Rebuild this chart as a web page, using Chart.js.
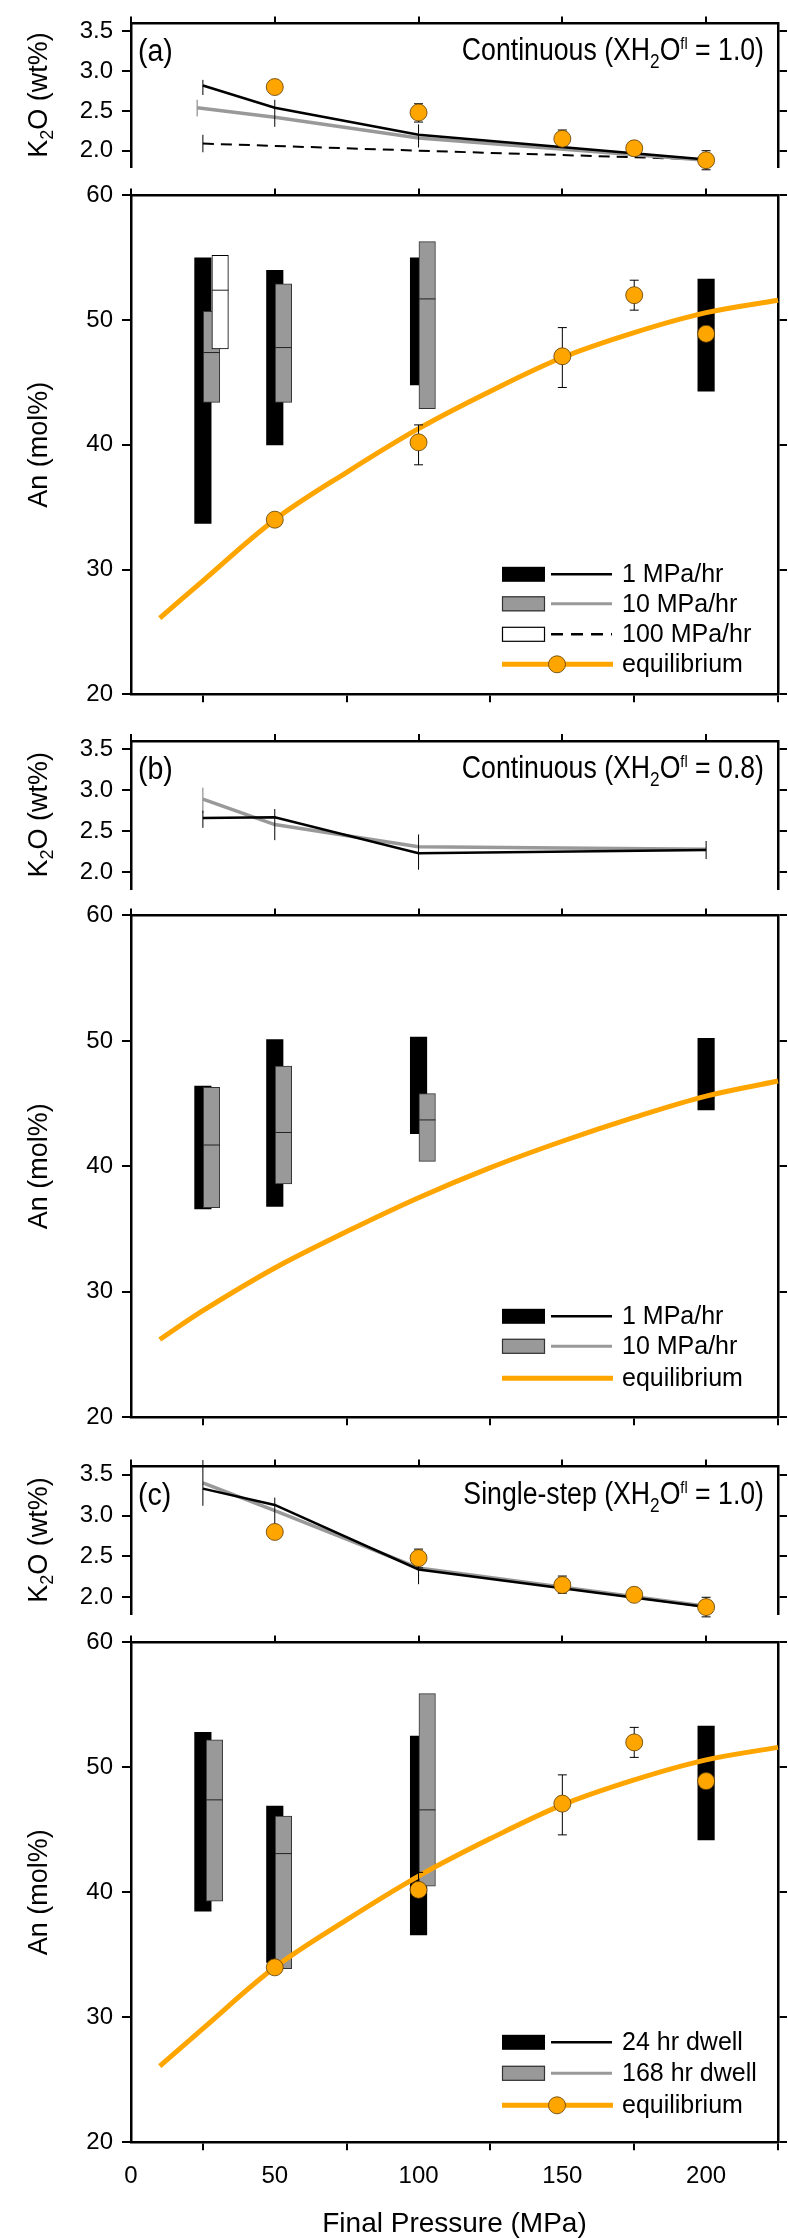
<!DOCTYPE html>
<html lang="en">
<head>
<meta charset="UTF-8">
<title>K2O and An vs final pressure</title>
<script src="https://cdn.jsdelivr.net/npm/chart.js"></script>
<style>
  html, body { margin: 0; padding: 0; background: #fff; }
  #fig { position: relative; width: 788px; height: 2239px; overflow: hidden; }
  #fig canvas { position: absolute; left: 0; }
</style>
</head>
<body>
<div id="fig">
  <canvas id="k2oA"></canvas>
  <canvas id="anA"></canvas>
  <canvas id="k2oB"></canvas>
  <canvas id="anB"></canvas>
  <canvas id="k2oC"></canvas>
  <canvas id="anC"></canvas>
</div>
<script>
// ---------- data ----------
// experiment pressures (MPa); gray / white boxes sit just right of the black ones
const runP = [25, 50, 100, 200];
const runP10 = [28, 53, 103];
const runP100 = [31];
const runP168 = [29, 53, 103];

// equilibrium experiments
const eqP = [50, 100, 150, 175, 200];
const eqK2O = [2.80, 2.48, 2.15, 2.03, 1.88];
const eqK2OLo = [null, 2.36, 2.05, null, 1.76];
const eqK2OHi = [null, 2.59, 2.26, null, 2.00];
const eqAn = [34.0, 40.2, 47.1, 52.0, 48.9];
const eqAnLo = [null, 38.4, 44.6, 50.8, null];
const eqAnHi = [null, 41.6, 49.4, 53.2, null];

// equilibrium An curves
const curveP = [10, 25, 50, 75, 100, 125, 150, 175, 200, 225];
const curveAn = [26.1, 29.1, 34.0, 37.8, 41.3, 44.3, 47.0, 49.0, 50.6, 51.6];
const curveAnB = [26.2, 28.5, 31.9, 34.8, 37.5, 39.9, 42.0, 43.9, 45.6, 46.8];

// (a) continuous, XH2O = 1.0
const aK2O1 = [2.82, 2.54, 2.20, 1.89];
const aK2O1Lo = [2.70, 2.30, 2.04, null];
const aK2O1Hi = [2.89, 2.64, 2.33, null];
const aK2O10P = [23, 50, 100, 200];
const aK2O10 = [2.54, 2.42, 2.16, 1.88];
const aK2O10Lo = [2.43, null, null, null];
const aK2O10Hi = [2.64, null, null, null];
const aK2O100P = [25, 100, 200];
const aK2O100 = [2.09, 2.00, 1.89];
const aK2O100Lo = [1.98, null, null];
const aK2O100Hi = [2.20, null, null];
const aAn1Lo = [33.7, 40.0, 44.8, 44.3];
const aAn1Hi = [55.0, 54.0, 55.0, 53.3];
const aAn10Lo = [43.4, 43.4, 42.9];
const aAn10Hi = [50.7, 52.9, 56.3];
const aAn10Med = [47.4, 47.8, 51.7];
const aAn100Lo = [47.7];
const aAn100Hi = [55.2];
const aAn100Med = [52.4];

// (b) continuous, XH2O = 0.8
const bK2O1 = [2.66, 2.67, 2.23, 2.27];
const bK2O1Lo = [2.54, 2.39, 2.03, 2.16];
const bK2O1Hi = [2.75, 2.77, 2.46, 2.38];
const bK2O10 = [2.89, 2.58, 2.31, 2.28];
const bK2O10Lo = [2.72, null, null, null];
const bK2O10Hi = [3.03, null, null, null];
const bAn1Lo = [36.6, 36.8, 42.6, 44.5];
const bAn1Hi = [46.4, 50.1, 50.3, 50.2];
const bAn10Lo = [36.7, 38.6, 40.4];
const bAn10Hi = [46.3, 48.0, 45.8];
const bAn10Med = [41.7, 42.7, 43.7];

// (c) single-step, XH2O = 1.0
const cK2O24 = [3.33, 3.13, 2.34, 1.88];
const cK2O24Lo = [3.12, 2.77, 2.16, null];
const cK2O24Hi = [3.68, 3.22, 2.42, null];
const cK2O168 = [3.40, 3.06, 2.36, 1.89];
const cAn24Lo = [38.5, 34.4, 36.6, 44.2];
const cAn24Hi = [52.8, 46.9, 52.5, 53.3];
const cAn168Lo = [39.3, 33.9, 40.5];
const cAn168Hi = [52.2, 46.1, 55.9];
const cAn168Med = [47.4, 43.1, 46.6];

// ---------- styling ----------
const FONT = '"Liberation Sans", Arial, Helvetica, sans-serif';
const ORANGE = '#ffa500';
const GRAY = '#999999';

const pts = (xs, ys) => xs.map((x, i) => ({ x: x, y: ys[i] }));
const rng = (xs, lo, hi) => xs.map((x, i) => ({ x: x, y: [lo[i], hi[i]] }));

function lineSet(xs, ys, color, width, extra) {
  return Object.assign({
    type: 'line', data: pts(xs, ys), borderColor: color, borderWidth: width,
    pointRadius: 0, fill: false, showLine: true, tension: 0, clip: false, order: 2
  }, extra || {});
}
function boxSet(xs, lo, hi, fill, stroke, order, med) {
  return {
    type: 'bar', data: rng(xs, lo, hi), backgroundColor: fill,
    borderColor: stroke || fill, borderWidth: stroke ? 1 : 0, borderSkipped: false,
    barThickness: 16.5, stack: 'box', clip: false, order: order, median: med
  };
}
function eqPoints(ys, lo, hi) {
  return {
    type: 'scatter', data: pts(eqP, ys), pointRadius: 8.5, pointBackgroundColor: ORANGE,
    pointBorderColor: '#5c3b00', pointBorderWidth: 0.8, showLine: false, clip: false,
    order: 0, errLo: lo, errHi: hi, errCap: 4.5
  };
}
function curveSet(ys) {
  return {
    type: 'line', data: pts(curveP, ys), borderColor: ORANGE, borderWidth: 5,
    pointRadius: 0, fill: false, showLine: true, tension: 0.35,
    clip: false, order: 1
  };
}

// ---------- custom drawing: error bars, medians, texts, legends ----------
const decoCfg = {};

function seg(ctx, x1, y1, x2, y2) { ctx.beginPath(); ctx.moveTo(x1, y1); ctx.lineTo(x2, y2); ctx.stroke(); }

function richText(ctx, x, y, parts, size, align, sx) {
  let w = 0;
  parts.forEach(p => { ctx.font = (p.size || size) + 'px ' + FONT; p.w = ctx.measureText(p.t).width; w += p.w; });
  const start = align === 'right' ? x - w * sx : align === 'center' ? x - w * sx / 2 : x;
  ctx.save();
  ctx.translate(start, y);
  ctx.scale(sx, 1);
  ctx.fillStyle = '#000';
  ctx.textBaseline = 'alphabetic';
  ctx.textAlign = 'left';
  let off = 0;
  parts.forEach(p => { ctx.font = (p.size || size) + 'px ' + FONT; ctx.fillText(p.t, off, p.dy || 0); off += p.w; });
  ctx.restore();
}

const decoPlugin = {
  id: 'deco',
  beforeDatasetDraw(chart, args) {
    const ds = chart.data.datasets[args.index];
    if (!ds.errLo) return;
    const xs = chart.scales.x, ys = chart.scales.y, ctx = chart.ctx;
    ctx.save();
    ctx.strokeStyle = ds.errColor || '#000';
    ctx.lineWidth = 1;
    ds.data.forEach((p, i) => {
      if (ds.errLo[i] == null) return;
      const px = xs.getPixelForValue(p.x);
      const y1 = ys.getPixelForValue(ds.errLo[i]), y2 = ys.getPixelForValue(ds.errHi[i]);
      seg(ctx, px, y1, px, y2);
      if (ds.errCap) { seg(ctx, px - ds.errCap, y1, px + ds.errCap, y1); seg(ctx, px - ds.errCap, y2, px + ds.errCap, y2); }
    });
    ctx.restore();
  },
  afterDatasetDraw(chart, args) {
    const ds = chart.data.datasets[args.index];
    if (!ds.median) return;
    const ys = chart.scales.y, ctx = chart.ctx;
    ctx.save();
    ctx.strokeStyle = '#222';
    ctx.lineWidth = 1;
    args.meta.data.forEach((el, i) => {
      const y = ys.getPixelForValue(ds.median[i]);
      seg(ctx, el.x - el.width / 2, y, el.x + el.width / 2, y);
    });
    ctx.restore();
  },
  afterDraw(chart) {
    const d = decoCfg[chart.canvas.id];
    if (!d) return;
    const ctx = chart.ctx, area = chart.chartArea;
    if (d.tag) richText(ctx, 138, area.top + 38, [{ t: d.tag }], 31, 'left', 0.92);
    if (d.title) richText(ctx, 764, area.top + 37, d.title, 31, 'right', 0.86);
    if (d.yTitle) {
      ctx.save();
      ctx.translate(47, (area.top + area.bottom) / 2);
      ctx.rotate(-Math.PI / 2);
      richText(ctx, 0, 0, d.yTitle, 27, 'center', 1);
      ctx.restore();
    }
    if (d.xTitle) richText(ctx, (area.left + area.right) / 2, area.bottom + 90, [{ t: d.xTitle }], 28, 'center', 1);
    if (d.legend) {
      d.legend.forEach(it => {
        const y = area.bottom + it.dy;
        ctx.save();
        if (it.box) {
          ctx.fillStyle = it.box;
          ctx.fillRect(502, y - 7.5, 43, 15);
          if (it.boxLine) { ctx.strokeStyle = it.boxLine; ctx.lineWidth = 1.2; ctx.strokeRect(502.5, y - 7, 42, 14); }
          ctx.strokeStyle = it.line; ctx.lineWidth = it.lw;
          ctx.setLineDash(it.dash || []);
          seg(ctx, 551, y, 612, y);
        } else {
          ctx.strokeStyle = ORANGE; ctx.lineWidth = 5;
          seg(ctx, 502, y, 613, y);
          if (it.marker) {
            ctx.beginPath(); ctx.arc(557, y, 8.5, 0, Math.PI * 2);
            ctx.fillStyle = ORANGE; ctx.fill();
            ctx.strokeStyle = '#5c3b00'; ctx.lineWidth = 0.8; ctx.stroke();
          }
        }
        ctx.restore();
        ctx.fillStyle = '#000';
        ctx.font = '25px ' + FONT;
        ctx.textBaseline = 'middle';
        ctx.textAlign = 'left';
        ctx.fillText(it.text, 622, y + 1);
      });
    }
  }
};

// ---------- panel builder ----------
function panel(id, g, yMin, yMax, yStep, datasets, opts) {
  const cv = document.getElementById(id);
  cv.width = 788;
  cv.height = g.bottom - g.top;
  cv.style.top = g.top + 'px';
  const topH = g.areaTop - g.top, botH = g.bottom - g.areaBottom;
  const border = { display: true, color: '#000', width: 2.5 };
  const tickMarks = len => ({ drawOnChartArea: false, drawTicks: true, tickLength: len, color: '#000', lineWidth: 2 });
  const tickFont = { family: FONT, size: 24 };
  return new Chart(cv, {
    type: 'scatter',
    data: { datasets: datasets },
    options: {
      responsive: false, animation: false, events: [],
      layout: { padding: 0 },
      plugins: { legend: { display: false }, tooltip: { enabled: false } },
      scales: {
        x: {
          type: 'linear', position: 'bottom', min: 0, max: 225, offset: false,
          ticks: { stepSize: 50, includeBounds: false, display: !!opts.xLabels, color: '#000', font: tickFont, padding: 12, maxRotation: 0 },
          grid: opts.frameBottom ? tickMarks(8) : { display: false },
          border: opts.frameBottom ? border : { display: false },
          afterFit: s => { s.height = botH; }
        },
        xT: {
          type: 'linear', position: 'top', min: 0, max: 225, offset: false,
          ticks: { stepSize: 50, includeBounds: false, display: false },
          grid: tickMarks(7), border: border,
          afterFit: s => { s.height = topH; }
        },
        y: {
          type: 'linear', position: 'left', min: yMin, max: yMax, stacked: false,
          ticks: { stepSize: yStep, includeBounds: false, color: '#000', font: tickFont, padding: 9,
                   callback: v => (yStep < 1 ? v.toFixed(1) : String(v)) },
          grid: tickMarks(9), border: border,
          afterFit: s => { s.width = 131; }
        },
        yR: {
          type: 'linear', position: 'right', min: yMin, max: yMax,
          ticks: { stepSize: yStep, includeBounds: false, display: false },
          grid: tickMarks(9), border: border,
          afterFit: s => { s.width = 10; }
        }
      }
    },
    plugins: [decoPlugin]
  });
}

const k2oTitle = [{ t: 'K' }, { t: '2', size: 18, dy: 6 }, { t: 'O (wt%)' }];
const anTitle = [{ t: 'An (mol%)' }];
const runTitle = (kind, x) => [{ t: kind + ' (XH' }, { t: '2', size: 20, dy: 8 }, { t: 'O' }, { t: 'fl', size: 17, dy: -11 }, { t: ' = ' + x + ')' }];

decoCfg.k2oA = { tag: '(a)', title: runTitle('Continuous', '1.0'), yTitle: k2oTitle };
decoCfg.anA = { yTitle: anTitle, legend: [
  { box: '#000', line: '#000', lw: 2.5, text: '1 MPa/hr', dy: -120 },
  { box: GRAY, boxLine: '#333', line: GRAY, lw: 3, text: '10 MPa/hr', dy: -90.5 },
  { box: '#fff', boxLine: '#000', line: '#000', lw: 2.5, dash: [12, 8], text: '100 MPa/hr', dy: -60 },
  { marker: true, text: 'equilibrium', dy: -30 }
] };
decoCfg.k2oB = { tag: '(b)', title: runTitle('Continuous', '0.8'), yTitle: k2oTitle };
decoCfg.anB = { yTitle: anTitle, legend: [
  { box: '#000', line: '#000', lw: 2.5, text: '1 MPa/hr', dy: -101 },
  { box: GRAY, boxLine: '#333', line: GRAY, lw: 3, text: '10 MPa/hr', dy: -71 },
  { marker: false, text: 'equilibrium', dy: -39 }
] };
decoCfg.k2oC = { tag: '(c)', title: runTitle('Single-step', '1.0'), yTitle: k2oTitle };
decoCfg.anC = { yTitle: anTitle, xTitle: 'Final Pressure (MPa)', legend: [
  { box: '#000', line: '#000', lw: 2.5, text: '24 hr dwell', dy: -100 },
  { box: GRAY, boxLine: '#333', line: GRAY, lw: 3, text: '168 hr dwell', dy: -69 },
  { marker: true, text: 'equilibrium', dy: -37 }
] };

// ---------- panels ----------
panel('k2oA', { top: 0, areaTop: 19.3, areaBottom: 170.5, bottom: 190 }, 1.8, 3.6, 0.5, [
  lineSet(aK2O100P, aK2O100, '#000', 2, { borderDash: [11, 7], errLo: aK2O100Lo, errHi: aK2O100Hi, order: 4 }),
  lineSet(aK2O10P, aK2O10, GRAY, 3.5, { errLo: aK2O10Lo, errHi: aK2O10Hi, errColor: '#777', order: 3 }),
  lineSet(runP, aK2O1, '#000', 2.5, { errLo: aK2O1Lo, errHi: aK2O1Hi, order: 2 }),
  eqPoints(eqK2O, eqK2OLo, eqK2OHi)
], {});

panel('anA', { top: 172, areaTop: 190.5, areaBottom: 694.3, bottom: 725 }, 20, 60, 10, [
  boxSet(runP, aAn1Lo, aAn1Hi, '#000', null, 5),
  boxSet(runP10, aAn10Lo, aAn10Hi, GRAY, '#333', 4, aAn10Med),
  boxSet(runP100, aAn100Lo, aAn100Hi, '#fff', '#000', 3, aAn100Med),
  curveSet(curveAn),
  eqPoints(eqAn, eqAnLo, eqAnHi)
], { frameBottom: true });

panel('k2oB', { top: 712, areaTop: 740.9, areaBottom: 892.6, bottom: 912 }, 1.8, 3.6, 0.5, [
  lineSet(runP, bK2O10, GRAY, 3.5, { errLo: bK2O10Lo, errHi: bK2O10Hi, errColor: '#777', order: 3 }),
  lineSet(runP, bK2O1, '#000', 2.5, { errLo: bK2O1Lo, errHi: bK2O1Hi, order: 2 })
], {});

panel('anB', { top: 892, areaTop: 910, areaBottom: 1417.3, bottom: 1445 }, 20, 60, 10, [
  boxSet(runP, bAn1Lo, bAn1Hi, '#000', null, 5),
  boxSet(runP10, bAn10Lo, bAn10Hi, GRAY, '#333', 4, bAn10Med),
  curveSet(curveAnB)
], { frameBottom: true });

panel('k2oC', { top: 1436, areaTop: 1466.6, areaBottom: 1617.8, bottom: 1637 }, 1.8, 3.6, 0.5, [
  lineSet(runP, cK2O168, GRAY, 3.5, { order: 3 }),
  lineSet(runP, cK2O24, '#000', 2.5, { errLo: cK2O24Lo, errHi: cK2O24Hi, order: 2 }),
  eqPoints(eqK2O, eqK2OLo, eqK2OHi)
], {});

panel('anC', { top: 1619, areaTop: 1637.5, areaBottom: 2142.3, bottom: 2239 }, 20, 60, 10, [
  boxSet(runP, cAn24Lo, cAn24Hi, '#000', null, 5),
  boxSet(runP168, cAn168Lo, cAn168Hi, GRAY, '#333', 4, cAn168Med),
  curveSet(curveAn),
  eqPoints(eqAn, eqAnLo, eqAnHi)
], { frameBottom: true, xLabels: true });
</script>
</body>
</html>
